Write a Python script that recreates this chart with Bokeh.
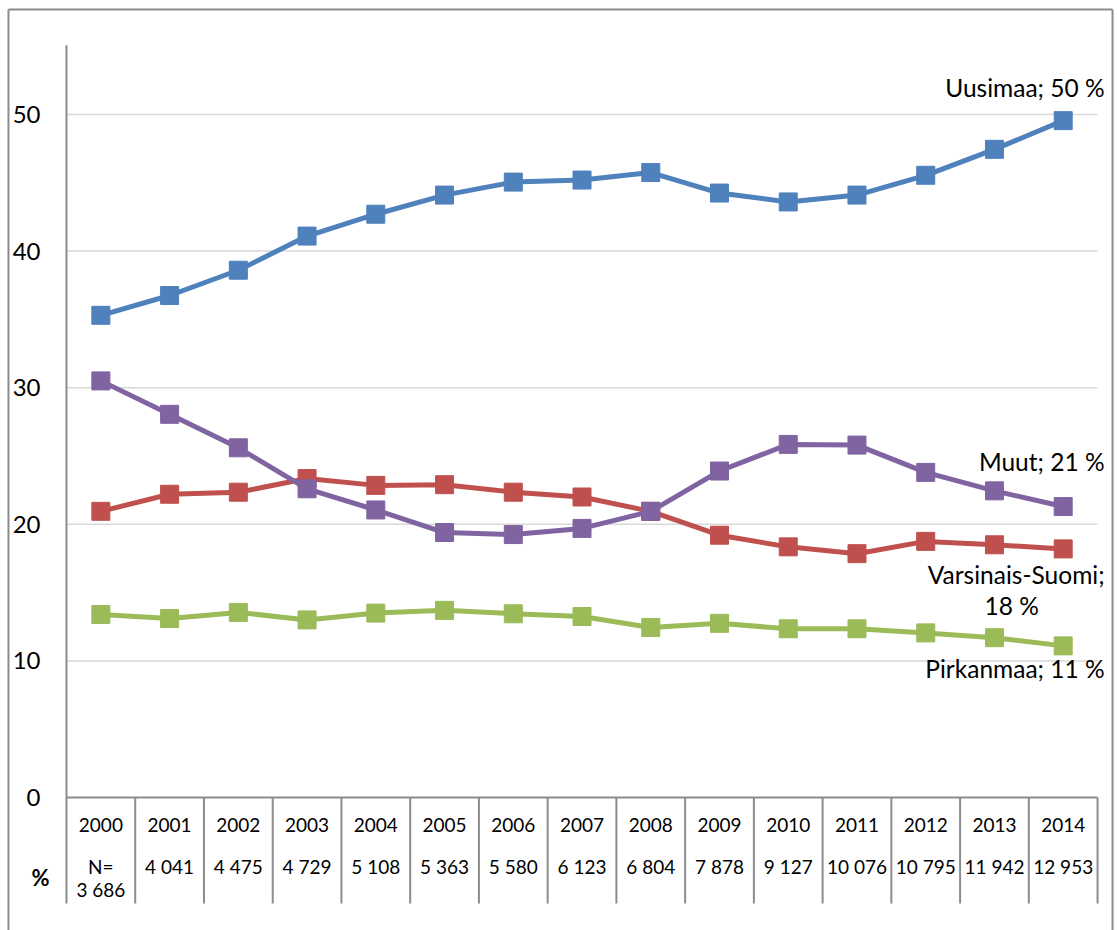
from bokeh.plotting import figure
from bokeh.models import Range1d
from bokeh.core.properties import value
from bokeh.embed import file_html
from bokeh.resources import INLINE

years = list(range(2000, 2015))
n_labels = ["N=\n3 686", "4 041", "4 475", "4 729", "5 108", "5 363", "5 580", "6 123",
            "6 804", "7 878", "9 127", "10 076", "10 795", "11 942", "12 953"]

uusimaa = [35.3, 36.75, 38.6, 41.1, 42.7, 44.1, 45.05, 45.2, 45.75, 44.25, 43.6, 44.1, 45.55, 47.45, 49.55]
varsinais = [20.95, 22.2, 22.35, 23.35, 22.85, 22.9, 22.35, 22.0, 20.95, 19.2, 18.35, 17.85, 18.75, 18.5, 18.2]
pirkanmaa = [13.4, 13.1, 13.55, 13.0, 13.5, 13.7, 13.45, 13.25, 12.45, 12.75, 12.35, 12.35, 12.05, 11.7, 11.1]
muut = [30.5, 28.05, 25.6, 22.6, 21.05, 19.4, 19.25, 19.7, 20.95, 23.9, 25.85, 25.8, 23.8, 22.45, 21.3]

series = [
    ("Uusimaa", uusimaa, "#4F81BD"),
    ("Varsinais-Suomi", varsinais, "#C0504D"),
    ("Pirkanmaa", pirkanmaa, "#9BBB59"),
    ("Muut", muut, "#8064A2"),
]
y_ticks = [0, 10, 20, 30, 40, 50]

FONT = "Lato"
AX = "#8c8c8c"
W, H = 1117, 930

# data extents of the chart body
X0, X1 = 1999.5, 2014.5
Y_TOP, Y_TABLE = 55.07, -7.76
XR = (1998.54, 2014.79)
YR = (-9.736, 58.346)

p = figure(width=W, height=H, output_backend="svg", toolbar_location=None,
           x_range=Range1d(*XR), y_range=Range1d(*YR),
           x_axis_type=None, y_axis_type=None,
           min_border_left=0, min_border_right=0, min_border_top=0, min_border_bottom=0)
p.outline_line_color = None
p.background_fill_color = "white"
p.border_fill_color = "white"
p.grid.visible = False

# outer border (left, top, right)
bx0, bx1, by1 = 1998.656, 2014.718, 57.69
p.segment(x0=[bx0, bx0, bx1], y0=[YR[0], by1, by1], x1=[bx0, bx1, bx1], y1=[by1, by1, YR[0]],
          line_color=AX, line_width=2)

# gridlines
grid_y = y_ticks[1:]
p.segment(x0=[X0] * len(grid_y), y0=grid_y, x1=[X1] * len(grid_y), y1=grid_y,
          line_color="#d9d9d9", line_width=1.5)

# y axis line and tick labels
p.segment(x0=[X0], y0=[Y_TABLE], x1=[X0], y1=[Y_TOP], line_color=AX, line_width=2)
p.text(x=[X0] * len(y_ticks), y=y_ticks, text=[str(t) for t in y_ticks], x_offset=-26,
       text_align="right", text_baseline="middle", text_font=value(FONT),
       text_font_size="24px", text_color="#000000")

# zero line / table top
p.segment(x0=[X0], y0=[0], x1=[X1], y1=[0], line_color=AX, line_width=2)

# table dividers
bounds = [y + 0.5 for y in years]
p.segment(x0=bounds, y0=[0] * len(bounds), x1=bounds, y1=[Y_TABLE] * len(bounds),
          line_color=AX, line_width=2)

p.text(x=years, y=[-1.98] * len(years), text=[str(y) for y in years],
       text_align="center", text_baseline="middle", text_font=value(FONT),
       text_font_size="19px", text_color="#000000")
p.text(x=years, y=[-4.22] * len(years), text=n_labels,
       text_align="center", text_baseline="top", text_font=value(FONT),
       text_font_size="19px", text_color="#000000", text_line_height=1.0)
p.text(x=[X0], y=[-5.86], text=["%"], x_offset=-26, text_align="center",
       text_baseline="middle", text_font=value(FONT), text_font_size="22px",
       text_font_style="bold", text_color="#000000")

for name, vals, col in series:
    p.line(years, vals, line_color=col, line_width=5)
    p.scatter(years, vals, marker="square", size=18, fill_color=col, line_color=col)

# end labels
lab_x = [X1, X1, X1, X1]
lab_y = [52.0, 24.6, 16.3, 9.44]
lab_t = ["Uusimaa; 50 %", "Muut; 21 %", "Varsinais-Suomi;", "Pirkanmaa; 11 %"]
p.text(x=lab_x, y=lab_y, text=lab_t, x_offset=7, text_align="right", text_baseline="middle",
       text_font=value(FONT), text_font_size="24.5px", text_color="#000000")
p.text(x=[2013.25], y=[14.05], text=["18 %"], text_align="center", text_baseline="middle",
       text_font=value(FONT), text_font_size="24.5px", text_color="#000000")

open("out.html", "w").write(file_html(p, INLINE))
